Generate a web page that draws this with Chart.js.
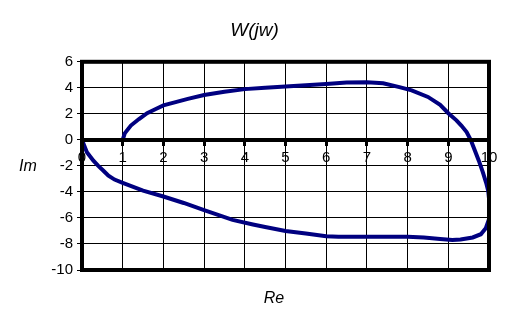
<!DOCTYPE html>
<html>
<head>
    <title>W(jw)</title>
    <script src="https://cdn.jsdelivr.net/npm/chart.js@4"></script>
    <style>
        body { margin: 0; background: #fff; }
    </style>
</head>
<body>
    <canvas id="nyquist" width="508" height="329"></canvas>

    <script>
        // Nyquist plot points, walked from (1, 0) round the loop back to the origin
        const re = [1.0, 1.05, 1.2, 1.4, 1.6, 1.8, 2.0, 2.3, 2.6, 3.0, 3.5, 4.0, 4.5, 5.0, 5.5,
            6.0, 6.5, 7.0, 7.4, 7.8, 8.1, 8.5, 8.8, 9.0, 9.2, 9.32, 9.45, 9.55, 9.65, 9.75, 9.85,
            9.93, 9.98, 10.0, 10.0, 9.92, 9.8, 9.6, 9.3, 9.1, 8.8, 8.4, 8.0, 7.0, 6.3, 6.0, 5.5,
            5.0, 4.5, 4.2, 3.7, 3.0, 2.5, 2.0, 1.5, 1.0, 0.8, 0.65, 0.52, 0.4, 0.28, 0.12, 0.0];
        const im = [0.0, 0.5, 1.1, 1.6, 2.05, 2.35, 2.65, 2.9, 3.15, 3.45, 3.7, 3.9, 4.0, 4.1, 4.2,
            4.3, 4.4, 4.42, 4.35, 4.05, 3.8, 3.3, 2.7, 2.05, 1.5, 1.1, 0.6, 0.0, -0.8, -1.6, -2.5,
            -3.3, -3.9, -4.5, -6.1, -6.8, -7.25, -7.5, -7.65, -7.7, -7.62, -7.5, -7.45, -7.45, -7.45, -7.4, -7.2,
            -7.0, -6.7, -6.5, -6.15, -5.4, -4.85, -4.35, -3.9, -3.3, -3.05, -2.75, -2.35, -2.0, -1.6, -0.95, 0.0];

        const xTicks = [0, 1, 2, 3, 4, 5, 6, 7, 8, 9, 10];
        const yTicks = [-10, -8, -6, -4, -2, 0, 2, 4, 6];

        const points = re.map((x, i) => ({ x: x, y: im[i] }));

        // thick frame round the plot area plus the axis names
        const framePlugin = {
            id: 'frame',
            afterDatasetsDraw(chart) {
                const { ctx, chartArea } = chart;
                ctx.save();
                ctx.strokeStyle = '#000';
                ctx.lineWidth = 4;
                ctx.strokeRect(chartArea.left, chartArea.top,
                    chartArea.right - chartArea.left, chartArea.bottom - chartArea.top);
                ctx.restore();
            },
            afterDraw(chart) {
                const ctx = chart.ctx;
                ctx.save();
                ctx.fillStyle = '#000';
                ctx.font = 'italic 16px "Liberation Sans", Arial, sans-serif';
                ctx.textAlign = 'center';
                ctx.textBaseline = 'middle';
                ctx.fillText('Im', 28, 167);
                ctx.fillText('Re', 274, 299);
                ctx.restore();
            }
        };

        const tickFont = { family: '"Liberation Sans", Arial, sans-serif', size: 15 };

        new Chart(document.getElementById('nyquist'), {
            type: 'scatter',
            data: {
                datasets: [{
                    data: points,
                    showLine: true,
                    borderColor: '#000080',
                    borderWidth: 4,
                    pointRadius: 0,
                    tension: 0
                }]
            },
            options: {
                responsive: false,
                animation: false,
                layout: { padding: { left: 20, right: 19, top: 0, bottom: 59 } },
                plugins: {
                    legend: { display: false },
                    tooltip: { enabled: false },
                    title: {
                        display: true,
                        text: 'W(jw)',
                        color: '#000',
                        font: { family: '"Liberation Sans", Arial, sans-serif', size: 19, style: 'italic', weight: 'normal' },
                        padding: { top: 19, bottom: 20 }
                    }
                },
                scales: {
                    x: {
                        type: 'linear',
                        position: { y: 0 },
                        min: 0,
                        max: 10,
                        afterBuildTicks: s => { s.ticks = xTicks.map(v => ({ value: v })); },
                        ticks: { color: '#000', font: tickFont, padding: 5, maxRotation: 0 },
                        grid: { color: '#000', lineWidth: 1, tickLength: 4, tickWidth: 3, tickColor: '#000' },
                        border: { color: '#000', width: 4, z: 1 }
                    },
                    y: {
                        type: 'linear',
                        min: -10,
                        max: 6,
                        afterBuildTicks: s => { s.ticks = yTicks.map(v => ({ value: v })); },
                        afterFit: s => { s.width = 62; },
                        ticks: { color: '#000', font: tickFont, padding: 4 },
                        grid: { color: '#000', lineWidth: 1, tickLength: 5 },
                        border: { color: '#000', width: 4, z: 1 }
                    }
                }
            },
            plugins: [framePlugin]
        });
    </script>
</body>
</html>
